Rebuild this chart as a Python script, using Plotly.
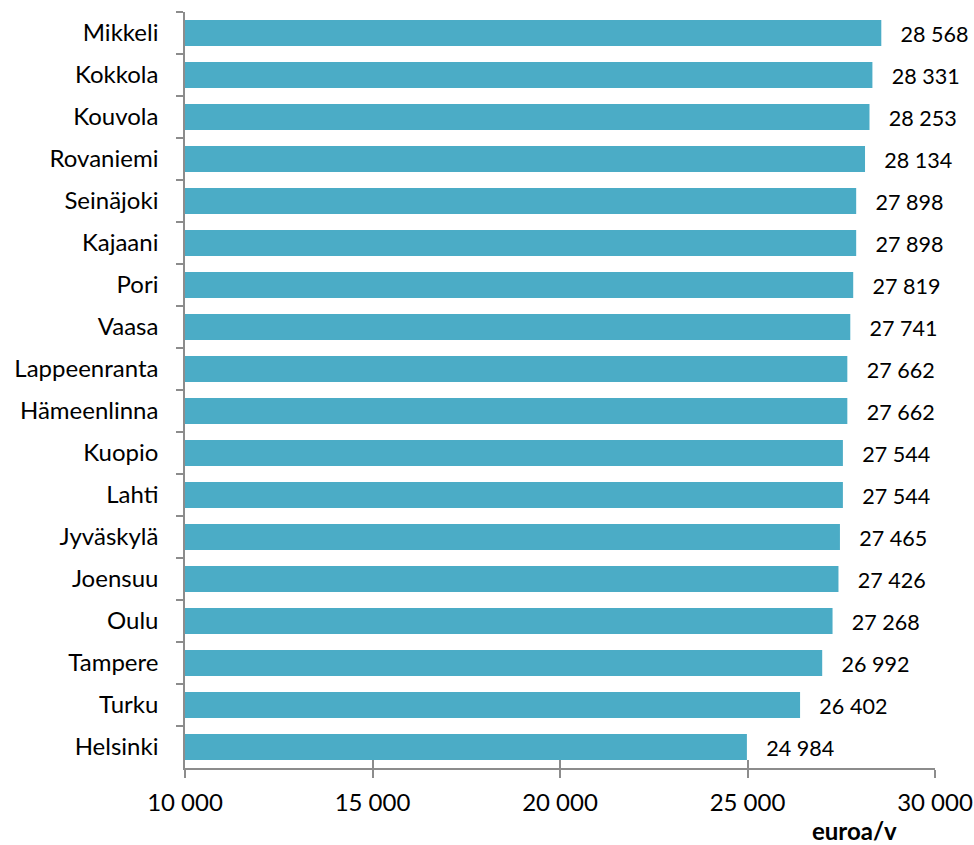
import plotly.graph_objects as go

cities = ["Mikkeli", "Kokkola", "Kouvola", "Rovaniemi", "Seinäjoki", "Kajaani", "Pori",
          "Vaasa", "Lappeenranta", "Hämeenlinna", "Kuopio", "Lahti", "Jyväskylä",
          "Joensuu", "Oulu", "Tampere", "Turku", "Helsinki"]
values = [28568, 28331, 28253, 28134, 27898, 27898, 27819, 27741, 27662, 27662,
          27544, 27544, 27465, 27426, 27268, 26992, 26402, 24984]
x_ticks = [10000, 15000, 20000, 25000, 30000]
x_title = "euroa/v"

FONT = "Lato, 'Open Sans', sans-serif"
FS = 24
AXIS_COLOR = "#8c8c8c"

fig = go.Figure()
fig.add_trace(go.Bar(
    y=cities, x=values, orientation="h",
    marker=dict(color="#4BACC6", line=dict(width=0)),
    texttemplate="\u2002 %{x:,d}", textposition="outside",
    textfont=dict(size=FS, color="#000000", family=FONT),
    cliponaxis=False, hoverinfo="skip",
))
# invisible trace on second axis to draw inward x ticks (crossing ticks)
fig.add_trace(go.Scatter(x=[x_ticks[0], x_ticks[-1]], y=[cities[0], cities[0]],
                         xaxis="x2", mode="markers", marker=dict(opacity=0),
                         hoverinfo="skip", showlegend=False))

fig.update_layout(
    width=974, height=845,
    margin=dict(l=185, r=39, t=12, b=77, autoexpand=False),
    paper_bgcolor="white", plot_bgcolor="white",
    separators=", ",
    showlegend=False,
    bargap=0.38,
    font=dict(family=FONT, size=FS, color="#000000"),
    xaxis=dict(range=[10000, 30000], tickvals=x_ticks, tickformat=",d", automargin=False,
               showgrid=False, zeroline=False, showline=True, linecolor=AXIS_COLOR,
               linewidth=1.5, ticks="outside", ticklen=8, tickwidth=1.5, tickcolor=AXIS_COLOR,
               tickfont=dict(size=FS, family=FONT), ticklabelstandoff=4,
               ticklabeloverflow="allow"),
    xaxis2=dict(range=[10000, 30000], tickvals=x_ticks, overlaying="x", side="bottom",
                anchor="y", showticklabels=False, showgrid=False, zeroline=False,
                automargin=False,
                ticks="inside", ticklen=8, tickwidth=1.5, tickcolor=AXIS_COLOR),
    yaxis=dict(type="category", categoryorder="array", categoryarray=cities,
               range=[len(cities) - 0.5, -0.5], autorange=False,
               showgrid=False, zeroline=False, automargin=False,
               showline=True, linecolor=AXIS_COLOR, linewidth=1.5,
               ticks="outside", tickson="boundaries", ticklen=7, tickwidth=1.5,
               tickcolor=AXIS_COLOR, tickfont=dict(size=FS, family=FONT),
               ticklabelstandoff=20),
    annotations=[dict(text="<b>" + x_title + "</b>", xref="paper", yref="paper",
                      x=0.952, y=-0.083, xanchor="right", yanchor="middle",
                      showarrow=False, font=dict(size=FS, family=FONT))],
)

fig.write_html("out.html", config={"displayModeBar": False},
               post_script="document.body.style.margin='0px';document.body.style.overflow='hidden';")
